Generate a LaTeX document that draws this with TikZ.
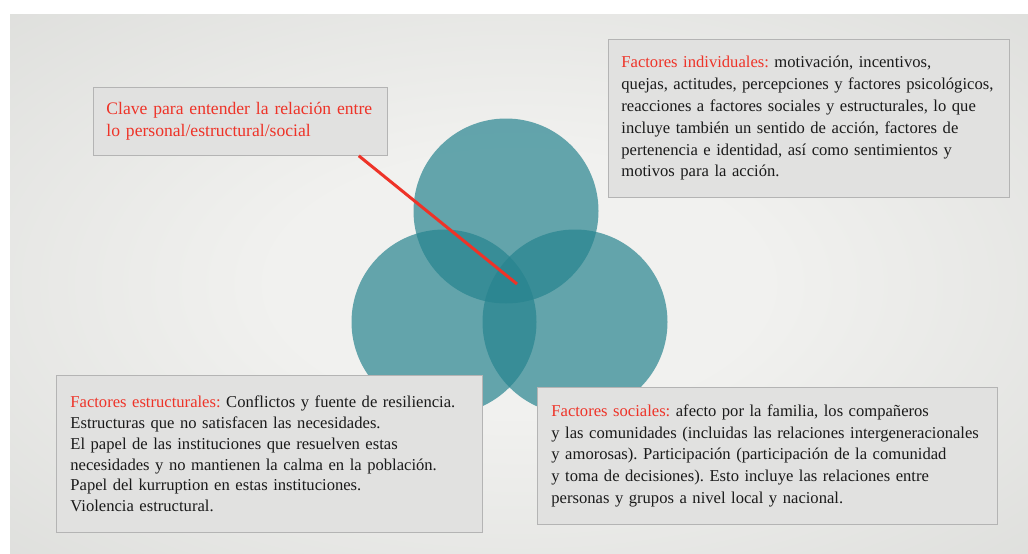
\documentclass[tikz,border=0pt]{standalone}
\usepackage{fontspec}
\setmainfont{Liberation Serif}
\usetikzlibrary{calc}
\definecolor{slideLight}{HTML}{F1F1EF}
\definecolor{slideDark}{HTML}{D4D5D2}
\definecolor{tealfill}{RGB}{39,132,143}
\definecolor{boxfill}{HTML}{E1E1E0}
\definecolor{boxline}{HTML}{B4B4B4}
\definecolor{titlered}{HTML}{EE3328}
\definecolor{bodyblack}{HTML}{1A1A1A}
\pgfdeclareradialshading{slideshade}{\pgfpoint{0bp}{0bp}}{%
  color(0bp)=(slideLight); color(12bp)=(slideLight); color(50bp)=(slideDark)}
\newcommand{\Head}[1]{\textcolor{titlered}{#1}}
\frenchspacing
\hyphenpenalty=10000
\exhyphenpenalty=10000

\begin{document}
\begin{tikzpicture}[x=1pt,y=-1pt,
  factor/.style={circle,minimum size=185pt,inner sep=0pt,fill=tealfill,fill opacity=0.7},
  infobox/.style={draw=boxline,fill=boxfill,line width=0.8pt,anchor=north west,
    inner xsep=13pt,inner ysep=0pt,align=left,text=bodyblack,
    font=\fontsize{16.6}{21.8}\selectfont},
  clavelink/.style={draw=titlered,line width=3pt}]
  \useasboundingbox (0,0) rectangle (1028,554);
  \shade[shading=slideshade] (10,14) rectangle (1028,554);

  % the three factors
  \node[factor] (cIndiv) at (506,211) {};
  \node[factor] (cEstruct) at (444,322) {};
  \node[factor] (cSocial) at (575,322) {};
  \coordinate (nucleo) at (517,284);

  \node[infobox,minimum width=294pt,minimum height=68pt,text width=268pt,
    text=titlered,font=\fontsize{17.6}{21.5}\selectfont] (clave) at (93,87)
    {Clave para entender la relación entre\\lo personal/estructural/social};
  \draw[clavelink] ($(clave.south east)+(-29,0)$) -- (nucleo);

  \node[infobox,minimum width=401pt,minimum height=158pt,text width=375pt] (indiv) at (608,39)
    {\Head{Factores individuales:} motivación, incentivos,\\
     quejas, actitudes, percepciones y factores psicológicos,\\
     reacciones a factores sociales y estructurales, lo que\\
     incluye también un sentido de acción, factores de\\
     pertenencia e identidad, así como sentimientos y\\
     motivos para la acción.};

  \node[infobox,minimum width=426pt,minimum height=157pt,text width=398pt,inner xsep=14pt,
    font=\fontsize{16.6}{20.8}\selectfont] (estruct) at (56,375)
    {\Head{Factores estructurales:} Conflictos y fuente de resiliencia.\\
     Estructuras que no satisfacen las necesidades.\\
     El papel de las instituciones que resuelven estas\\
     necesidades y no mantienen la calma en la población.\\
     Papel del kurruption en estas instituciones.\\
     Violencia estructural.};

  \node[infobox,minimum width=460pt,minimum height=137pt,text width=432pt,inner xsep=14pt] (social) at (537,387)
    {\Head{Factores sociales:} afecto por la familia, los compañeros\\
     y las comunidades (incluidas las relaciones intergeneracionales\\
     y amorosas). Participación (participación de la comunidad\\
     y toma de decisiones). Esto incluye las relaciones entre\\
     personas y grupos a nivel local y nacional.};
\end{tikzpicture}
\end{document}
